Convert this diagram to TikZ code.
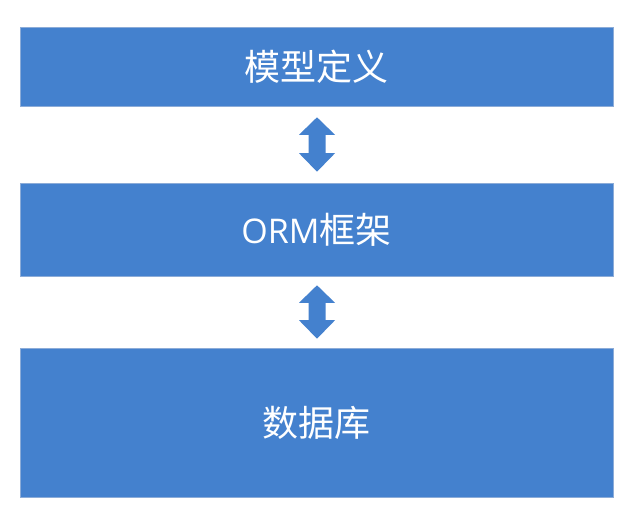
\documentclass[tikz,border=0pt]{standalone}
\usepackage{fontspec}
\newfontfamily\cjk{Noto Sans CJK SC}
\newfontfamily\latin{Open Sans}
\usetikzlibrary{calc}
\definecolor{boxblue}{RGB}{68,129,206}
\definecolor{boxedge}{RGB}{140,172,216}
\tikzset{
  layer/.style={fill=boxblue, draw=boxedge, line width=0.6pt, minimum width=593pt,
    inner sep=0pt, text=white, font=\cjk\fontsize{36}{40}\selectfont},
  arrowfill/.style={fill=boxblue, draw=none}
}
\newcommand\dblarrow[2]{%
  \fill[arrowfill] let \p1=(#1), \p2=(#2) in
    (\x1,\y1) -- (\x1+18pt,\y1-17.5pt) -- (\x1+8.5pt,\y1-17.5pt)
    -- (\x2+8.5pt,\y2+18.5pt) -- (\x2+18pt,\y2+18.5pt) -- (\x2,\y2)
    -- (\x2-18pt,\y2+18.5pt) -- (\x2-8.5pt,\y2+18.5pt)
    -- (\x1-8.5pt,\y1-17.5pt) -- (\x1-18pt,\y1-17.5pt) -- cycle;}
\begin{document}
\begin{tikzpicture}[x=1pt,y=-1pt]
\useasboundingbox (0,0) rectangle (639,508);
\fill[white] (0,0) rectangle (639,508);
\node[layer, minimum height=79pt] (model) at (316.5,66.5) {模型定义};
\node[layer, minimum height=93pt] (orm) at (316.5,229.5) {{\latin\fontsize{34}{40}\selectfont ORM}框架};
\node[layer, minimum height=149pt] (db) at (316.5,422.5) {数据库};
\coordinate (a1) at ($(model.south)+(0.5,11)$);
\coordinate (a2) at ($(orm.north)+(0.5,-11)$);
\coordinate (b1) at ($(orm.south)+(0.5,9)$);
\coordinate (b2) at ($(db.north)+(0.5,-9)$);
\dblarrow{a1}{a2}
\dblarrow{b1}{b2}
\end{tikzpicture}
\end{document}
